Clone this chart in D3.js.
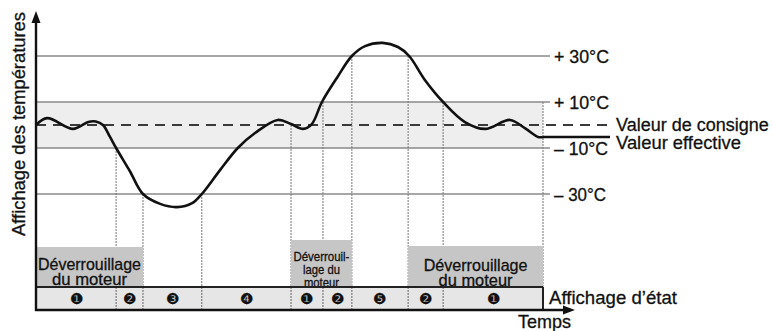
<!DOCTYPE html>
<html>
<head>
<meta charset="utf-8">
<script src="https://cdn.jsdelivr.net/npm/d3@7"></script>
<style>
  html, body { margin: 0; padding: 0; background: #fff; }
  svg text { font-family: "Liberation Sans", Arial, sans-serif; fill: #111; stroke: #111; stroke-width: 0.3; }
</style>
</head>
<body>
<svg id="chart" width="773" height="331"></svg>
<script>
// Temperature reference levels (°C)
const levels = [30, 10, -10, -30];
const levelLabels = ["+ 30°C", "+ 10°C", "– 10°C", "– 30°C"];
const setpoint = 0;

// Actual temperature over time (time in %, temperature in °C)
const times = [0, 2.2, 7.3, 10.3, 11.8, 13.2, 14.6, 15.8, 18.5, 21.1, 24.5, 27.8, 30.8, 32.7,
               36.3, 39.8, 43.2, 47.7, 50.3, 52.7, 54.4, 56.4, 59.5, 62.3, 64.9, 68.4, 71.4,
               73.6, 76.7, 80.3, 84.6, 88.6, 93.5, 96.5, 99, 100];
const temps = [0, 3.0, -1.7, 1.3, 1.5, 0, -5.2, -10, -20, -30, -34.3, -35.7, -34, -30,
               -19.6, -10, -3.5, 2.2, 0.4, -1.7, 0.4, 10, 21, 30, 34.3, 35.7, 33.9,
               30, 19.6, 10, 1.3, -1.7, 2.2, -1.5, -5.2, -5.2];
const finalValue = -5.2;

// Phase boundaries and status numbers shown in the status bar
const phaseEdges = [0, 15.8, 21.1, 32.7, 50.3, 56.6, 62.3, 73.4, 80.3, 100];
const phaseStatus = ["❶", "❷", "❸", "❹", "❶", "❷", "❺", "❷", "❶"];
// Temperature at which each inner boundary's guide line begins
const edgeStartTemps = [-10, -30, -30, 0, 10, 30, 30, 10, 10];

// Motor unlock windows
const unlockStart = [0, 50.3, 73.4];
const unlockEnd = [21.1, 62.3, 100];
const unlockLines = [["Déverrouillage", "du moteur"], ["Déverrouil-", "lage du", "moteur"], ["Déverrouillage", "du moteur"]];

const svg = d3.select("#chart");

const x = d3.scaleLinear().domain([0, 100]).range([36, 543]);
const y = d3.scaleLinear().domain([-10, 10]).range([148, 102]);

const barTop = 287, barBottom = 310;
const lineEnd = 550, legendEnd = 610;

// Condensed text: scale glyphs horizontally to a set width
function label(sel, txt, size, width, px, py, rot, anchor) {
  const t = sel.append("text")
    .attr("font-size", size)
    .attr("text-anchor", anchor || "start")
    .text(txt);
  const sx = width / t.node().getComputedTextLength();
  t.attr("transform", `translate(${px},${py})${rot ? ` rotate(${rot})` : ""} scale(${sx},1)`);
  return t;
}

// Tolerance band between +10 and -10
svg.append("rect")
  .attr("x", x(0)).attr("y", y(10))
  .attr("width", x(100) - x(0)).attr("height", y(-10) - y(10))
  .attr("fill", "#eeeeee");

// Level lines
svg.selectAll(".level").data(levels).join("line")
  .attr("x1", x(0)).attr("x2", lineEnd)
  .attr("y1", d => y(d)).attr("y2", d => y(d))
  .attr("stroke", "#8a8a8a").attr("stroke-width", 1.6);

const levelWidths = [55, 55, 54, 52];
levels.forEach((d, i) => {
  label(svg, levelLabels[i], 17.5, levelWidths[i], 554, y(d) + 6.5);
});

// Setpoint (dashed)
svg.append("line")
  .attr("x1", x(0)).attr("x2", legendEnd)
  .attr("y1", y(setpoint)).attr("y2", y(setpoint))
  .attr("stroke", "#3a3a3a").attr("stroke-width", 2)
  .attr("stroke-dasharray", "10,7");

// Phase guide lines
const innerEdges = phaseEdges.slice(1);
svg.selectAll(".guide").data(innerEdges).join("line")
  .attr("x1", d => x(d)).attr("x2", d => x(d))
  .attr("y1", (d, i) => y(edgeStartTemps[i])).attr("y2", barBottom)
  .attr("stroke", "#777").attr("stroke-width", 1)
  .attr("stroke-dasharray", "2,1");

// Actual value curve
const pts = times.map((t, i) => [x(t), y(temps[i])]);
svg.append("path")
  .attr("d", d3.line().curve(d3.curveCatmullRom.alpha(0.5))(pts))
  .attr("fill", "none").attr("stroke", "#111").attr("stroke-width", 2.6);
svg.append("line")
  .attr("x1", x(100)).attr("x2", legendEnd)
  .attr("y1", y(finalValue)).attr("y2", y(finalValue))
  .attr("stroke", "#111").attr("stroke-width", 2.6);

// Legend labels
label(svg, "Valeur de consigne", 19, 153, 616, 130.5);
label(svg, "Valeur effective", 19, 125, 616, 148.5);

// Motor unlock boxes
const boxTops = [247, 240, 246];
const boxFont = [16, 12.5, 16];
const boxLine = [[270, 285], [261, 274, 287], [271, 286]];
const boxWidths = [[103, 75], [56, 37, 35], [104, 74]];
unlockStart.forEach((s, i) => {
  const x0 = x(s), x1 = x(unlockEnd[i]);
  svg.append("rect")
    .attr("x", x0).attr("y", boxTops[i])
    .attr("width", x1 - x0).attr("height", barTop - boxTops[i])
    .attr("fill", "#c6c6c6");
  unlockLines[i].forEach((l, j) => {
    label(svg, l, boxFont[i], boxWidths[i][j], (x0 + x1) / 2, boxLine[i][j], 0, "middle");
  });
});

// Status bar
svg.append("rect")
  .attr("x", x(0)).attr("y", barTop)
  .attr("width", x(100) - x(0)).attr("height", barBottom - barTop)
  .attr("fill", "#e6e6e6");
svg.selectAll(".barGuide").data(innerEdges.slice(0, -1)).join("line")
  .attr("x1", d => x(d)).attr("x2", d => x(d))
  .attr("y1", barTop).attr("y2", barBottom)
  .attr("stroke", "#666").attr("stroke-width", 1)
  .attr("stroke-dasharray", "2,1");
svg.append("line")
  .attr("x1", x(0)).attr("x2", x(100))
  .attr("y1", barTop).attr("y2", barTop)
  .attr("stroke", "#222").attr("stroke-width", 2);
svg.append("line")
  .attr("x1", x(100)).attr("x2", x(100))
  .attr("y1", barTop).attr("y2", barBottom)
  .attr("stroke", "#222").attr("stroke-width", 2);

svg.selectAll(".status").data(phaseStatus).join("text")
  .attr("x", (d, i) => (x(phaseEdges[i]) + x(phaseEdges[i + 1])) / 2)
  .attr("y", 303.5)
  .attr("text-anchor", "middle")
  .attr("font-family", "DejaVu Sans")
  .attr("font-size", 15)
  .attr("stroke-width", 0)
  .text(d => d);

label(svg, "Affichage d’état", 19, 128, 549, 304);

// Axes
svg.append("line")
  .attr("x1", 36).attr("x2", 36).attr("y1", barBottom + 1).attr("y2", 20)
  .attr("stroke", "#111").attr("stroke-width", 2.4);
svg.append("path").attr("d", "M36,11 L31.5,23 L40.5,23 Z").attr("fill", "#111");
svg.append("line")
  .attr("x1", 35).attr("x2", 566).attr("y1", barBottom).attr("y2", barBottom)
  .attr("stroke", "#111").attr("stroke-width", 2.4);
svg.append("path").attr("d", "M575,310 L563,305.5 L563,314.5 Z").attr("fill", "#111");

label(svg, "Affichage des températures", 19, 224, 25, 124, -90, "middle");
label(svg, "Temps", 18, 53, 518, 328);
</script>
</body>
</html>
